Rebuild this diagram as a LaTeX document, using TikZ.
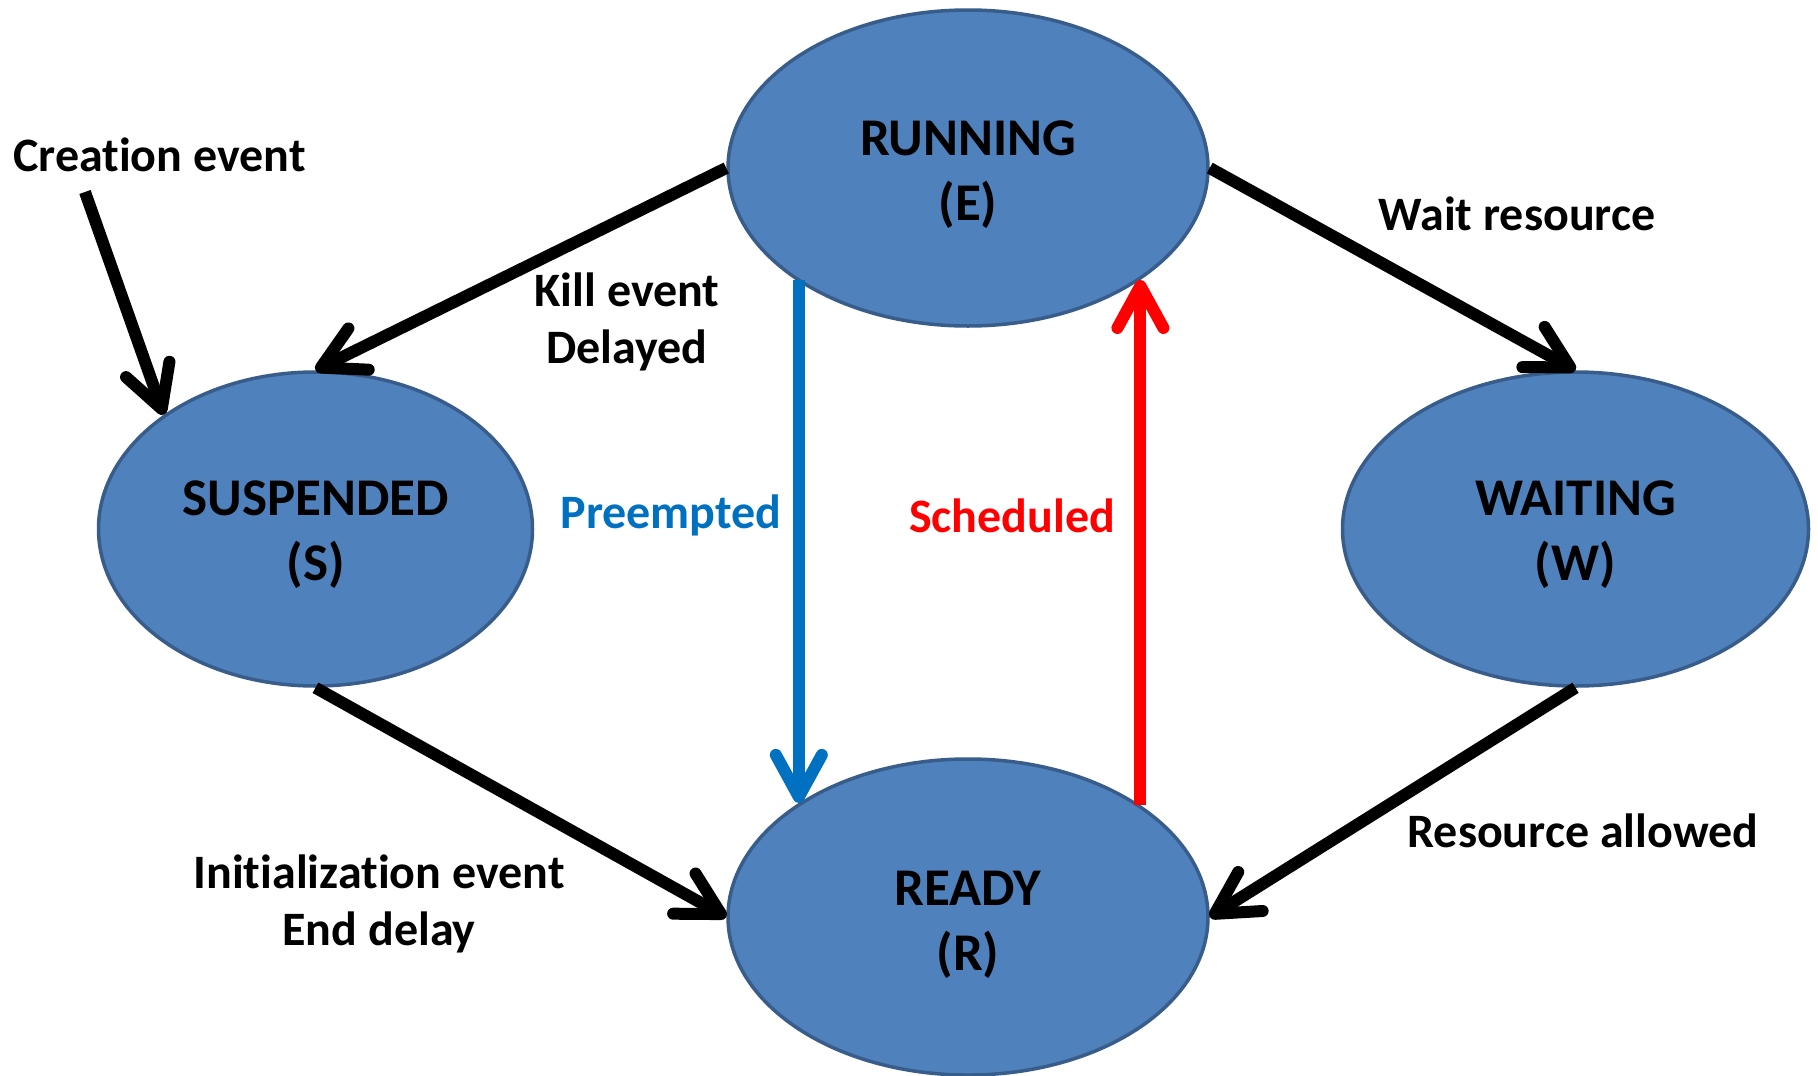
\documentclass[tikz,border=0pt]{standalone}
\usepackage{fontspec}
\setmainfont{Carlito}[Ligatures=NoCommon]
\usetikzlibrary{arrows.meta,shapes.geometric}
\definecolor{stfill}{HTML}{4F81BD}
\definecolor{stborder}{HTML}{385D8A}
\definecolor{pblue}{HTML}{0070C0}
\definecolor{sred}{HTML}{FF0000}
\begin{document}
\begin{tikzpicture}[x=1pt,y=-1pt,
  state/.style={ellipse, fill=stfill, draw=stborder, line width=3.5pt, inner sep=0pt},
  stext/.style={align=center, inner sep=0pt, font=\fontsize{53}{65}\selectfont\bfseries},
  lbl/.style={align=center, font=\fontsize{48}{57}\selectfont\bfseries, inner sep=0pt},
  arr/.style={line width=12pt, -{Straight Barb[length=42pt,width=46pt,round]}},
]
\useasboundingbox (0,0) rectangle (1818,1076);
\node[state, minimum width=480pt, minimum height=316pt] (run) at (968,168) {};
\node[state, minimum width=434pt, minimum height=314pt] (sus) at (315.5,529) {};
\node[state, minimum width=466pt, minimum height=314pt] (wai) at (1575.5,529) {};
\node[state, minimum width=480pt, minimum height=316pt] (rdy) at (968,917) {};
\node[stext] (runt) at (968,175) {RUNNING\\(E)};
\node[stext] (sust) at (315.5,535) {SUSPENDED\\(S)};
\node[stext] (wait) at (1575.5,535) {WAITING\\(W)};
\node[stext] (rdyt) at (968,925) {READY\\(R)};

\coordinate (cstart) at (85,192);
\draw[arr] (cstart) -- (sus.143);
\draw[arr] (run.west) -- (sus.north);
\draw[arr] (run.east) -- (wai.north);
\draw[arr] (sus.south) -- (rdy.west);
\draw[arr] (wai.south) -- (rdy.east);
\draw[arr, pblue, line width=12pt] (rdy.146.4 |- run.213.6) -- (rdy.146.4);
\draw[arr, sred, line width=12pt] (rdy.33.5) -- (rdy.33.5 |- run.327);

\node[lbl, anchor=west] (lcreate) at (13,155) {Creation event};
\node[lbl] (lkill) at (627,322) {Kill event\\Delayed};
\node[lbl] (lwait) at (1517,214) {Wait resource};
\node[lbl, text=pblue] (lpre) at (671,515) {Preempted};
\node[lbl, text=sred] (lsch) at (1012,516) {Scheduled};
\node[lbl] (linit) at (379,904) {Initialization event\\End delay};
\node[lbl] (lres) at (1583,831) {Resource allowed};
\end{tikzpicture}
\end{document}
